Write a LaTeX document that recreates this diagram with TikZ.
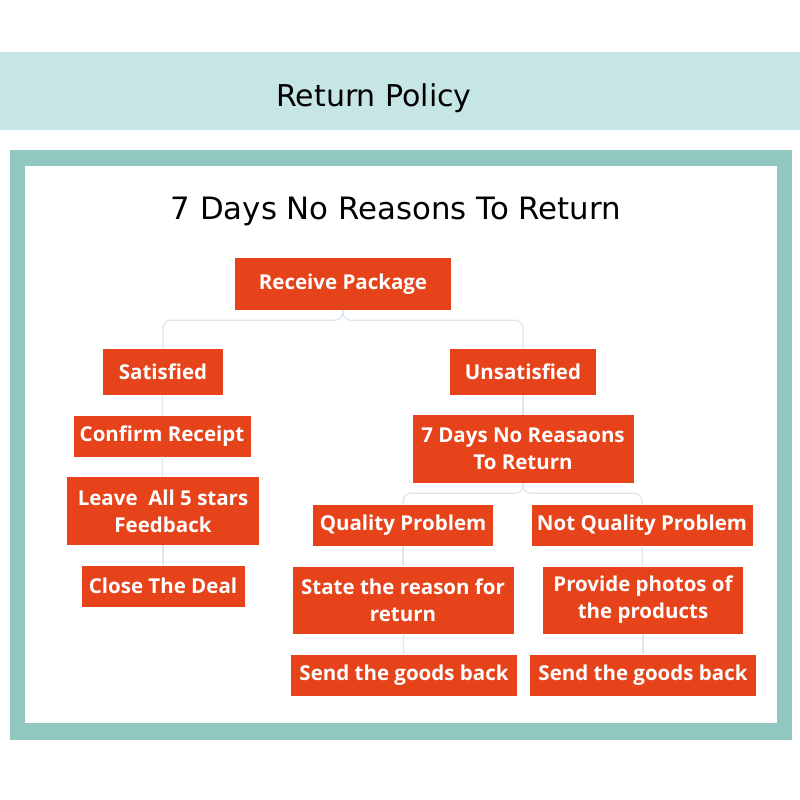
\documentclass[tikz,border=0pt]{standalone}
\usepackage{fontspec}
\setmainfont{DejaVu Sans}
\newfontfamily\boxfont{Open Sans}
\usepackage{xcolor}
\usetikzlibrary{positioning}

\definecolor{bandteal}{HTML}{C5E6E4}
\definecolor{frameteal}{HTML}{90C7BF}
\definecolor{stepred}{HTML}{E6431B}
\definecolor{linkgray}{HTML}{DCE6EE}

\begin{document}
\begin{tikzpicture}[
  x=1pt, y=-1pt,
  stepbox/.style={fill=stepred, text=white, align=center, inner sep=2pt,
    font=\boxfont\bfseries\fontsize{20.5}{27}\selectfont},
  link/.style={draw=linkgray, line width=1.2pt, rounded corners=8pt}
]
  \useasboundingbox (0,0) rectangle (800,800);
  % background bands
  \fill[bandteal] (0,52) rectangle (800,130);
  \fill[frameteal] (10,150) rectangle (792,740);
  \fill[white] (25,166) rectangle (777,723);
  \node[font=\fontsize{30}{34}\selectfont] (head) at (374,98) {Return Policy};
  \node[font=\fontsize{30.8}{36}\selectfont] (title) at (396,211) {7 Days No Reasons To Return};

  % boxes
  \node[stepbox, minimum width=216, minimum height=52] (rp) at (343,284) {Receive Package};
  \node[stepbox, minimum width=120, minimum height=46] (sat) at (163,372) {Satisfied};
  \node[stepbox, minimum width=146, minimum height=46] (uns) at (523,372) {Unsatisfied};
  \node[stepbox, minimum width=177, minimum height=41] (conf) at (162,436) {Confirm Receipt};
  \node[stepbox, minimum width=221, minimum height=68] (seven) at (523,449) {7 Days No Reasaons\\To Return};
  \node[stepbox, minimum width=192, minimum height=68] (leave) at (163,511) {Leave~ All 5 stars\\Feedback};
  \node[stepbox, minimum width=180, minimum height=41] (qual) at (403,525) {Quality Problem};
  \node[stepbox, minimum width=221, minimum height=41] (nqual) at (642,525) {Not Quality Problem};
  \node[stepbox, minimum width=163, minimum height=41] (close) at (163,586) {Close The Deal};
  \node[stepbox, minimum width=221, minimum height=67] (state) at (403,600) {State the reason for\\return};
  \node[stepbox, minimum width=200, minimum height=67] (photo) at (643,600) {Provide photos of\\the products};
  \node[stepbox, minimum width=226, minimum height=41] (sendl) at (404,675) {Send the goods back};
  \node[stepbox, minimum width=226, minimum height=41] (sendr) at (643,675) {Send the goods back};

  % connectors
  \draw[link] (rp.south) -- ++(0,10) -| (sat.north);
  \draw[link] (rp.south) -- ++(0,10) -| (uns.north);
  \draw[link] (sat) -- (conf);
  \draw[link] (conf) -- (leave);
  \draw[link] (leave) -- (close);
  \draw[link] (uns) -- (seven);
  \draw[link] (seven.south) -- ++(0,10) -| (qual.north);
  \draw[link] (seven.south) -- ++(0,10) -| (nqual.north);
  \draw[link] (qual) -- (state);
  \draw[link] (state) -- (sendl);
  \draw[link] (nqual) -- (photo);
  \draw[link] (photo) -- (sendr);
\end{tikzpicture}
\end{document}
